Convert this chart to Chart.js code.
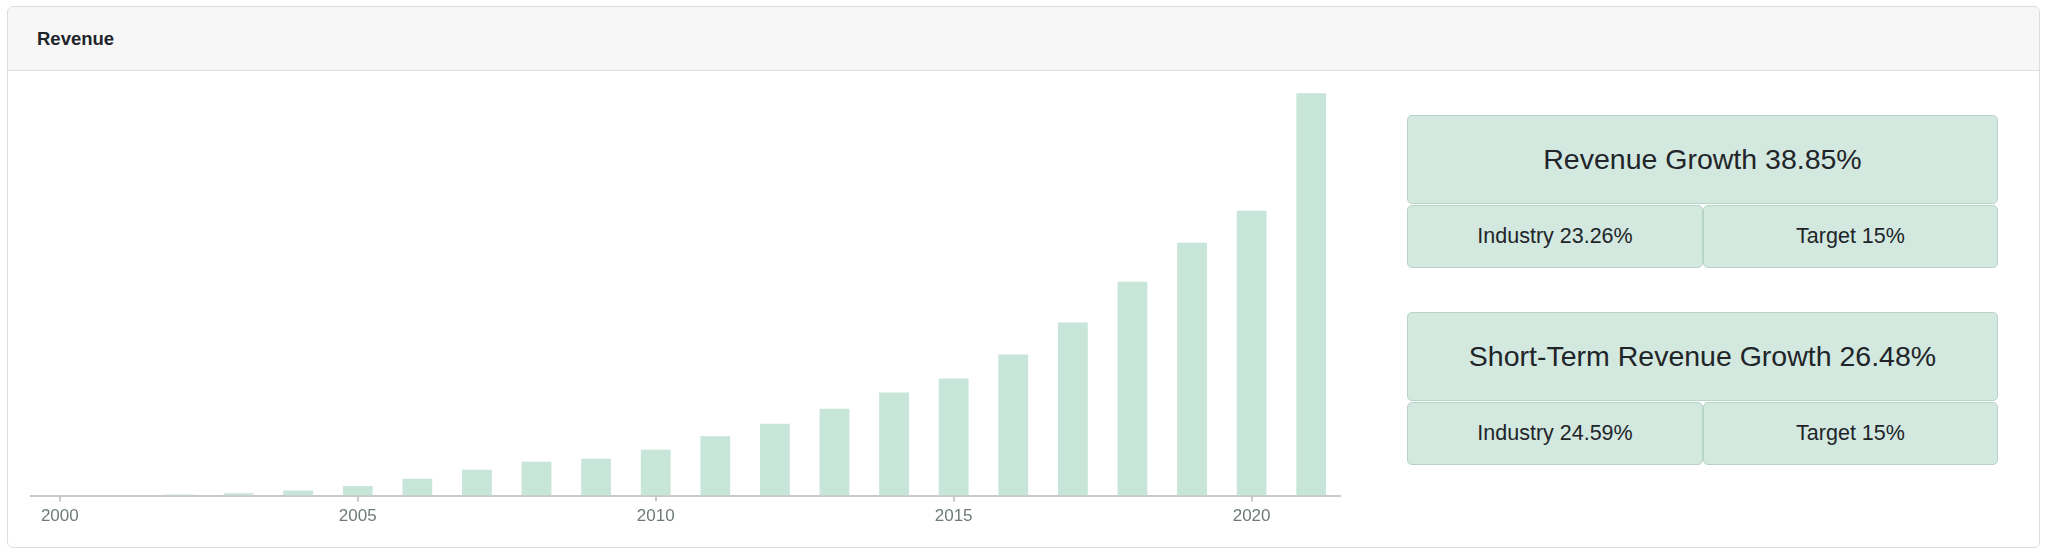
<!DOCTYPE html>
<html lang="en">
<head>
    <meta charset="UTF-8">
    <title>Revenue</title>
    <script src="https://cdn.jsdelivr.net/npm/chart.js"></script>
    <style>
        body {
            margin: 0;
            background: #fff;
            font-family: "Helvetica Neue", Helvetica, Arial, "Liberation Sans", sans-serif;
            color: #212529;
        }
        .card {
            position: absolute;
            left: 7px;
            top: 6px;
            width: 2031px;
            height: 540px;
            border: 1px solid #dcdcdc;
            border-radius: 6px;
            overflow: hidden;
        }
        .card-header {
            height: 63px;
            background: #f7f7f7;
            border-bottom: 1px solid #dcdcdc;
            padding-left: 29px;
            line-height: 63px;
            font-weight: bold;
            font-size: 18.5px;
        }
        .chart-box {
            position: absolute;
            left: 22px;
            top: 73px;
            width: 1311px;
            height: 452px;
        }
        .stat {
            position: absolute;
            background: #d3e8df;
            border: 1px solid #b8d4c8;
            border-radius: 5px;
            box-sizing: border-box;
            display: flex;
            align-items: center;
            justify-content: center;
        }
        .stat.big { font-size: 28.5px; }
        .stat.small { font-size: 21.5px; }
    </style>
</head>
<body>
    <div class="card">
        <div class="card-header">Revenue</div>
        <div class="chart-box">
            <canvas id="revenueChart"></canvas>
        </div>
        <div id="stats"></div>
    </div>

    <script>
        // revenue per year
        const years = ['2000', '2001', '2002', '2003', '2004', '2005', '2006', '2007', '2008', '2009', '2010',
                       '2011', '2012', '2013', '2014', '2015', '2016', '2017', '2018', '2019', '2020', '2021'];
        const revenue = [0, 0, 0.25, 0.6, 1.25, 2.4, 4.25, 6.5, 8.5, 9.25, 11.5,
                         14.85, 18, 21.75, 25.85, 29.35, 35.35, 43.4, 53.6, 63.4, 71.4, 100.9];
        const labelEvery = 5;

        // growth boxes
        const growthTitles = ['Revenue Growth', 'Short-Term Revenue Growth'];
        const growthValues = ['38.85%', '26.48%'];
        const industryValues = ['23.26%', '24.59%'];
        const targetValues = ['15%', '15%'];

        const ctx = document.getElementById('revenueChart').getContext('2d');
        new Chart(ctx, {
            type: 'bar',
            data: {
                labels: years,
                datasets: [{
                    label: 'Revenue',
                    data: revenue,
                    backgroundColor: '#c7e5d8',
                    barPercentage: 0.5,
                    categoryPercentage: 1.0
                }]
            },
            options: {
                responsive: true,
                maintainAspectRatio: false,
                animation: false,
                layout: { padding: 0 },
                plugins: {
                    legend: { display: false },
                    tooltip: { enabled: false }
                },
                scales: {
                    y: {
                        display: false,
                        min: 0,
                        max: 104.2
                    },
                    x: {
                        border: { display: true, color: '#c9c9c9', width: 2 },
                        grid: {
                            offset: false,
                            drawOnChartArea: false,
                            drawTicks: true,
                            tickLength: 6,
                            color: '#c9c9c9',
                            lineWidth: 2
                        },
                        ticks: {
                            autoSkip: false,
                            maxRotation: 0,
                            padding: 5,
                            color: '#6e7b75',
                            font: { size: 17, family: '"Helvetica Neue", Helvetica, Arial, "Liberation Sans", sans-serif' },
                            callback: function (value, index) {
                                const y = parseInt(years[index], 10);
                                return y % labelEvery === 0 ? years[index] : null;
                            }
                        }
                    }
                }
            }
        });

        // growth panels on the right
        const stats = document.getElementById('stats');
        const groupTops = [108, 305];
        function addBox(cls, left, top, width, height, text) {
            const d = document.createElement('div');
            d.className = 'stat ' + cls;
            d.style.left = left + 'px';
            d.style.top = top + 'px';
            d.style.width = width + 'px';
            d.style.height = height + 'px';
            d.textContent = text;
            stats.appendChild(d);
        }
        growthTitles.forEach((title, i) => {
            const top = groupTops[i];
            addBox('big', 1399, top, 591, 89, `${title} ${growthValues[i]}`);
            addBox('small', 1399, top + 90, 296, 63, `Industry ${industryValues[i]}`);
            addBox('small', 1695, top + 90, 295, 63, `Target ${targetValues[i]}`);
        });
    </script>
</body>
</html>
